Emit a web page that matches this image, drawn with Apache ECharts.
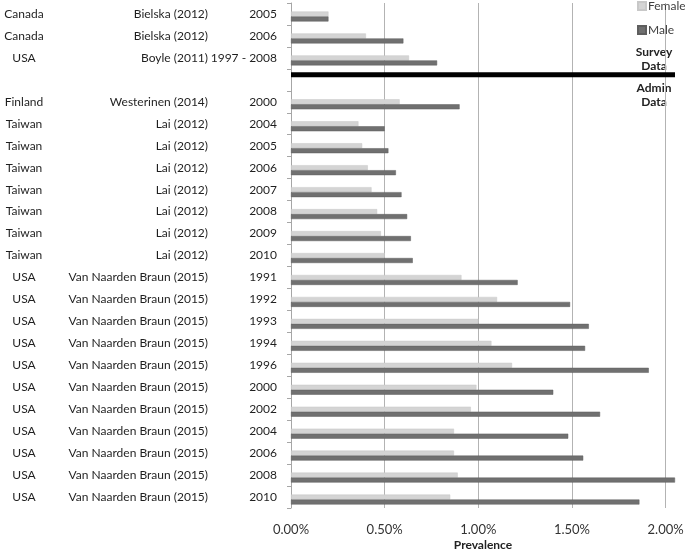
<!DOCTYPE html>
<html>
<head>
<meta charset="utf-8">
<script src="https://cdn.jsdelivr.net/npm/echarts@6/dist/echarts.min.js"></script>
<style>
html,body{margin:0;padding:0;background:#fff;}
#chart{width:685px;height:550px;}
</style>
</head>
<body>
<div id="chart"></div>
<script>
const countries = ['Canada','Canada','USA','','Finland','Taiwan','Taiwan','Taiwan','Taiwan','Taiwan','Taiwan','Taiwan','USA','USA','USA','USA','USA','USA','USA','USA','USA','USA','USA'];
const studies = ['Bielska (2012)','Bielska (2012)','Boyle (2011)','','Westerinen (2014)','Lai (2012)','Lai (2012)','Lai (2012)','Lai (2012)','Lai (2012)','Lai (2012)','Lai (2012)','Van Naarden Braun (2015)','Van Naarden Braun (2015)','Van Naarden Braun (2015)','Van Naarden Braun (2015)','Van Naarden Braun (2015)','Van Naarden Braun (2015)','Van Naarden Braun (2015)','Van Naarden Braun (2015)','Van Naarden Braun (2015)','Van Naarden Braun (2015)','Van Naarden Braun (2015)'];
const years = ['2005','2006','1997 - 2008','','2000','2004','2005','2006','2007','2008','2009','2010','1991','1992','1993','1994','1996','2000','2002','2004','2006','2008','2010'];
const female = [0.20,0.40,0.63,null,0.58,0.36,0.38,0.41,0.43,0.46,0.48,0.50,0.91,1.10,1.00,1.07,1.18,0.99,0.96,0.87,0.87,0.89,0.85];
const male = [0.20,0.60,0.78,null,0.90,0.50,0.52,0.56,0.59,0.62,0.64,0.65,1.21,1.49,1.59,1.57,1.91,1.40,1.65,1.48,1.56,2.05,1.86];
const divider = [null,null,null,2.05,null,null,null,null,null,null,null,null,null,null,null,null,null,null,null,null,null,null,null];
const xTicks = [0,0.5,1.0,1.5,2.0];

const categories = countries.map((c,i)=>c+'|'+studies[i]+'|'+years[i]);

const chart = echarts.init(document.getElementById('chart'), null, {renderer:'canvas'});
const FONT = 'Lato';
chart.setOption({
  backgroundColor:'#fff',
  animation:false,
  textStyle:{fontFamily:FONT},
  grid:{left:291,right:10,top:3,bottom:42,containLabel:false,outerBoundsMode:'none'},
  legend:{
    data:['Female','Male'],
    orient:'vertical',
    left:637, top:0, padding:0,
    itemWidth:8, itemHeight:8, itemGap:12,
    icon:'rect',
    textStyle:{fontFamily:FONT,fontSize:12,color:'#404040',padding:[0,0,0,-3],overflow:'none'}
  },
  xAxis:{
    type:'value', min:0, max:2.05, interval:0.5,
    axisLine:{show:false}, axisTick:{show:false},
    splitLine:{show:true,lineStyle:{color:['#b3b3b3','#b3b3b3','#b3b3b3','#b3b3b3','#b3b3b3','rgba(0,0,0,0)'],width:1}},
    axisLabel:{
      fontFamily:FONT,fontSize:13,color:'#333',margin:15,
      formatter:function(v){ return xTicks.indexOf(Math.round(v*100)/100)>=0 ? v.toFixed(2)+'%' : ''; }
    },
    name:'Prevalence', nameLocation:'middle', nameGap:31, nameMoveOverlap:false,
    nameTextStyle:{fontFamily:FONT,fontSize:12,fontWeight:'bold',color:'#222'}
  },
  yAxis:{
    type:'category', inverse:true, data:categories,
    axisLine:{show:true,lineStyle:{color:'#a6a6a6',width:1}},
    axisTick:{show:true,length:4,lineStyle:{color:'#a6a6a6'}},
    axisLabel:{
      interval:0, margin:14,
      formatter:function(v){
        const p=v.split('|');
        if(!p[0]) return '';
        return '{a|'+p[0]+'}{b|'+p[1]+'}{c|'+p[2]+'}';
      },
      rich:{
        a:{width:48,align:'center',fontFamily:FONT,fontSize:12,color:'#1f1f1f'},
        b:{width:160,align:'right',fontFamily:FONT,fontSize:12,color:'#1f1f1f'},
        c:{width:69,align:'right',fontFamily:FONT,fontSize:12,color:'#1f1f1f'}
      }
    }
  },
  series:[
    {name:'Divider',type:'bar',data:divider,barWidth:5,barGap:'0%',itemStyle:{color:'#000'}},
    {name:'Female',type:'bar',data:female,barWidth:5,barGap:'0%',itemStyle:{color:'#d4d4d4',borderColor:'#c8c8c8',borderWidth:0.5}},
    {name:'Male',type:'bar',data:male,barWidth:5,barGap:'0%',itemStyle:{color:'#707070',borderColor:'#5e5e5e',borderWidth:0.5}}
  ],
  graphic:[
    {type:'text',style:{text:'Survey\nData',x:654,y:45,textAlign:'center',font:'bold 12px Lato',lineHeight:14,fill:'#222'}},
    {type:'text',style:{text:'Admin\nData',x:654,y:81,textAlign:'center',font:'bold 12px Lato',lineHeight:14,fill:'#222'}}
  ]
});
</script>
</body>
</html>
